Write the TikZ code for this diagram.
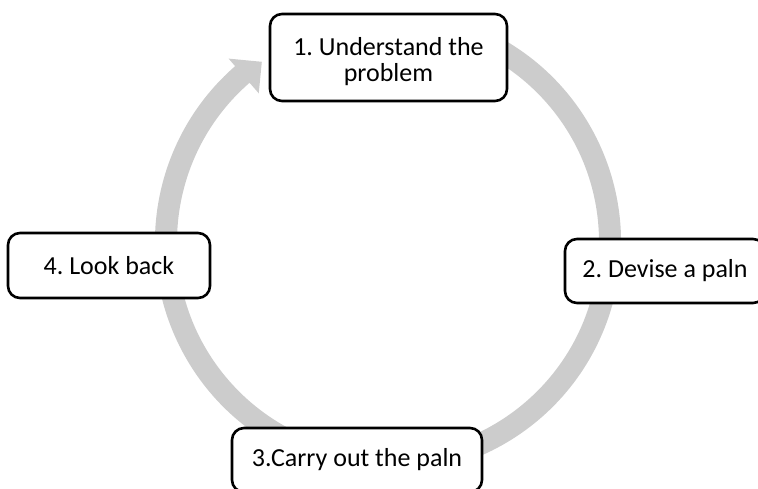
\documentclass[tikz,border=0pt]{standalone}
\usepackage{fontspec}
\setmainfont{Carlito}
\definecolor{ringgray}{RGB}{204,204,204}
\frenchspacing
\begin{document}
\begin{tikzpicture}[x=1pt,y=-1pt,
  stepbox/.style={draw=black, line width=2.6pt, rounded corners=12pt,
    fill=white, align=center, inner sep=0pt,
    font=\fontsize{26}{26}\selectfont}]
\useasboundingbox (0,0) rectangle (758,488);
\clip (0,0) rectangle (758,488);

% circular arrow running clockwise round the four steps
\begin{scope}[shift={(388,242)}]
  \fill[ringgray]
    (-70:233) arc[start angle=-70, end angle=229, radius=233]
    -- (229:243) -- (235:220) -- (229:197) -- (229:211)
    arc[start angle=229, end angle=-70, radius=211] -- cycle;
\end{scope}

% the four steps
\node[stepbox, minimum width=237pt, minimum height=87pt] (understand)
  at (388.5,57.5) {\rule{0pt}{26pt}1. Understand the\\problem};
\node[stepbox, minimum width=200pt, minimum height=64pt] (devise)
  at (665,271) {2. Devise a paln};
\node[stepbox, minimum width=250pt, minimum height=64pt] (carry)
  at (357,460) {3.Carry out the paln};
\node[stepbox, minimum width=202pt, minimum height=65pt] (lookback)
  at (109,265.5) {4. Look back};
\end{tikzpicture}
\end{document}
